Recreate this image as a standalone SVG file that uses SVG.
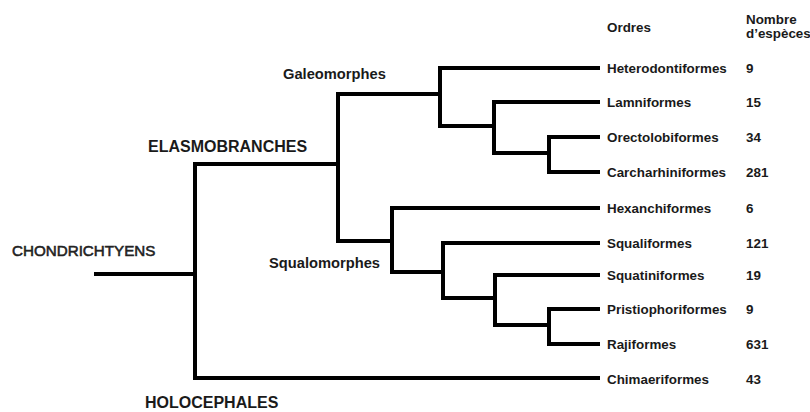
<svg xmlns="http://www.w3.org/2000/svg" width="810" height="412" viewBox="0 0 810 412">
<style>
text{font-family:"Liberation Sans",Arial,sans-serif;font-weight:bold;fill:#1a1a1a}
.ord{font-size:13.4px}
.num{font-size:13.4px}
.clade{font-size:14.7px}
.big{font-size:16px}
.root{font-size:15.2px;font-weight:normal;fill:#222;stroke:#222;stroke-width:0.55}
.edge{fill:none;stroke:#000;stroke-width:4;stroke-linejoin:miter;stroke-linecap:butt}
</style>
<rect width="810" height="412" fill="#fff"/>
<g id="connectors">
<path class="edge" d="M94 274 H197"/>
<path class="edge" d="M338 164 H195 V378 H600"/>
<path class="edge" d="M440 94 H338 V241 H392"/>
<path class="edge" d="M600 68 H440 V126 H494"/>
<path class="edge" d="M600 102 H494 V153 H549"/>
<path class="edge" d="M600 137 H549 V172 H600"/>
<path class="edge" d="M600 208 H392 V272 H443"/>
<path class="edge" d="M600 243 H443 V298 H495"/>
<path class="edge" d="M600 275 H495 V325 H549"/>
<path class="edge" d="M600 309 H549 V344 H600"/>
</g>
<g id="headers">
<text class="ord" x="607" y="32">Ordres</text>
<text class="num" x="746" y="24">Nombre</text>
<text class="num" x="746" y="38">d’espèces</text>
</g>
<g id="chondrichtyens"><text class="root" x="12" y="256">CHONDRICHTYENS</text></g>
<g id="elasmobranches"><text class="big" x="148" y="152">ELASMOBRANCHES</text></g>
<g id="holocephales"><text class="big" x="145" y="408">HOLOCEPHALES</text></g>
<g id="galeomorphes"><text class="clade" x="283" y="79">Galeomorphes</text></g>
<g id="squalomorphes"><text class="clade" x="269" y="268">Squalomorphes</text></g>
<g id="heterodontiformes"><text class="ord" x="607" y="73">Heterodontiformes</text><text class="num" x="746" y="73">9</text></g>
<g id="lamniformes"><text class="ord" x="607" y="107">Lamniformes</text><text class="num" x="746" y="107">15</text></g>
<g id="orectolobiformes"><text class="ord" x="607" y="142">Orectolobiformes</text><text class="num" x="746" y="142">34</text></g>
<g id="carcharhiniformes"><text class="ord" x="607" y="177">Carcharhiniformes</text><text class="num" x="746" y="177">281</text></g>
<g id="hexanchiformes"><text class="ord" x="607" y="213">Hexanchiformes</text><text class="num" x="746" y="213">6</text></g>
<g id="squaliformes"><text class="ord" x="607" y="248">Squaliformes</text><text class="num" x="746" y="248">121</text></g>
<g id="squatiniformes"><text class="ord" x="607" y="280">Squatiniformes</text><text class="num" x="746" y="280">19</text></g>
<g id="pristiophoriformes"><text class="ord" x="607" y="314">Pristiophoriformes</text><text class="num" x="746" y="314">9</text></g>
<g id="rajiformes"><text class="ord" x="607" y="349">Rajiformes</text><text class="num" x="746" y="349">631</text></g>
<g id="chimaeriformes"><text class="ord" x="607" y="384">Chimaeriformes</text><text class="num" x="746" y="384">43</text></g>
</svg>
